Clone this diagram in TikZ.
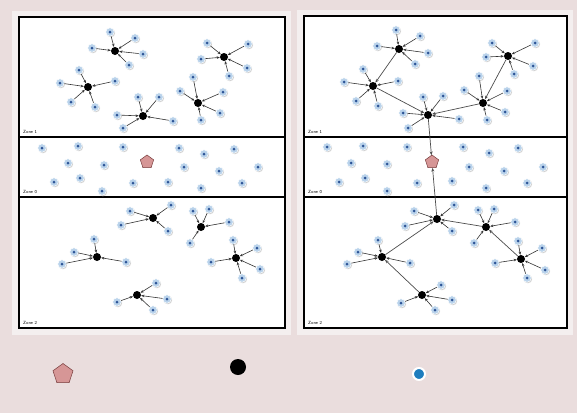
\documentclass[tikz,border=0pt]{standalone}
\usetikzlibrary{arrows.meta,shapes.geometric}
\definecolor{bgpink}{RGB}{234,221,221}
\definecolor{panelc}{RGB}{244,239,239}
\definecolor{sens}{RGB}{186,211,235}
\definecolor{sensc}{RGB}{45,85,150}
\definecolor{sinkf}{RGB}{214,150,150}
\definecolor{sinkd}{RGB}{120,60,60}
\definecolor{legblue}{RGB}{30,125,190}
\newcommand\mycluster[3]{%
  \node[hub] (#1) at #2 {};
  \foreach \p [count=\i] in {#3} {\node[sensor] (#1-\i) at \p {}; \draw[link] (#1-\i) -- (#1);}%
}
\newcommand\myfield[2]{%
  \foreach \p [count=\i] in {#2} {\node[sensor] (#1-\i) at \p {};}%
}
\begin{document}
\begin{tikzpicture}[x=1pt,y=-1pt,
  sensor/.style={circle,inner sep=0,minimum size=8.5pt,fill=sens,draw=white,line width=0.5pt,
    preaction={fill=black!18,transform canvas={shift={(0.9pt,-1pt)}}},
    path picture={\fill[sensc] (path picture bounding box.center) circle (1.5pt);}},
  hub/.style={circle,fill=black,inner sep=0,minimum size=8pt},
  link/.style={draw=black!80,line width=0.6pt,-{Stealth[length=3.2pt,width=2.6pt]}},
  backbone/.style={draw=black!70,line width=0.7pt,-{Stealth[length=3.6pt,width=3pt]}},
  sink/.style={regular polygon,regular polygon sides=5,fill=sinkf,draw=sinkd,line width=0.5pt,inner sep=0,minimum size=14pt},
  zonebox/.style={draw=black,line width=1.2pt,fill=white},
  zonelabel/.style={font=\sffamily\fontsize{4.5}{5}\selectfont,anchor=west,inner sep=0}]
\fill[bgpink] (0,0) rectangle (577,413);
\fill[panelc] (12,11) rectangle (291,335);
\fill[panelc] (297,10) rectangle (573,335);
% boxes
\draw[zonebox] (19,17) rectangle (285,328);
\draw[black,line width=1.2pt] (19,137) -- (285,137) (19,197) -- (285,197);
\draw[zonebox] (304,16) rectangle (567,328);
\draw[black,line width=1.2pt] (304,137) -- (567,137) (304,197) -- (567,197);
\node[zonelabel] (lz1) at (23,132) {Zone 1};
\node[zonelabel] (lz0) at (23,192) {Zone 0};
\node[zonelabel] (lz2) at (23,323) {Zone 2};
\node[zonelabel] (rz1) at (308,132) {Zone 1};
\node[zonelabel] (rz0) at (308,192) {Zone 0};
\node[zonelabel] (rz2) at (308,323) {Zone 2};
% left zone 1
\mycluster{A}{(115,51)}{(110,32),(135,38),(92,48),(143,54),(129,65)}
\mycluster{B}{(224,57)}{(207,43),(248,44),(201,59),(247,68),(229,76)}
\mycluster{C}{(88,87)}{(79,70),(60,83),(115,81),(71,102),(95,107)}
\mycluster{D}{(143,116)}{(138,97),(159,97),(117,115),(173,121),(123,128)}
\mycluster{E}{(198,103)}{(193,77),(180,91),(223,92),(201,120),(220,113)}
% left zone 0
\myfield{lf}{(42,148),(78,146),(123,147),(179,148),(204,154),(234,149),(68,163),(104,165),(184,167),(219,171),(258,167),(54,182),(80,178),(133,183),(168,182),(242,183),(201,188),(102,191)}
\node[sink] (lsink) at (147,162) {};
% left zone 2
\mycluster{F}{(153,218)}{(130,211),(171,205),(121,225),(168,231)}
\mycluster{G}{(201,227)}{(193,211),(209,209),(229,222),(190,243)}
\mycluster{H}{(97,257)}{(94,239),(74,252),(62,264),(126,262)}
\mycluster{I}{(236,258)}{(233,240),(257,248),(211,262),(260,269),(242,278)}
\mycluster{J}{(137,295)}{(156,283),(117,302),(167,299),(153,310)}
% right zone 1
\mycluster{K}{(399,49)}{(396,30),(420,36),(377,46),(428,53),(415,64)}
\mycluster{L}{(508,56)}{(492,43),(535,43),(486,57),(533,66),(514,74)}
\mycluster{M}{(373,86)}{(363,69),(344,82),(398,81),(356,101),(378,106)}
\mycluster{N}{(428,115)}{(423,97),(443,96),(403,113),(459,119),(408,128)}
\mycluster{O}{(483,103)}{(479,76),(464,90),(507,91),(487,120),(505,112)}
% right zone 0
\myfield{rf}{(327,147),(363,146),(407,147),(463,147),(489,153),(518,148),(351,163),(387,164),(469,167),(504,171),(543,167),(339,182),(365,178),(417,183),(452,181),(527,183),(486,188),(387,191)}
\node[sink] (rsink) at (432,162) {};
% right zone 2
\mycluster{P}{(437,219)}{(414,211),(454,205),(405,226),(452,231)}
\mycluster{Q}{(486,227)}{(478,210),(494,209),(515,222),(474,243)}
\mycluster{R}{(382,257)}{(378,240),(358,252),(347,264),(410,263)}
\mycluster{S}{(521,259)}{(518,241),(542,248),(495,263),(545,270),(527,278)}
\mycluster{T}{(422,295)}{(441,285),(401,303),(452,300),(435,310)}
% backbones
\draw[backbone] (K) -- (M);
\draw[backbone] (M) -- (N);
\draw[backbone] (L) -- (O);
\draw[backbone] (O) -- (N);
\draw[backbone] (N) -- (rsink);
\draw[backbone] (T) -- (R);
\draw[backbone] (R) -- (P);
\draw[backbone] (S) -- (Q);
\draw[backbone] (Q) -- (P);
\draw[backbone] (P) -- (rsink);
% legend
\node[sink,minimum size=21pt] (legsink) at (63,374) {};
\node[circle,fill=black,inner sep=0,minimum size=16pt] (leghub) at (238,367) {};
\node[circle,fill=legblue,draw=white,line width=2pt,inner sep=0,minimum size=12pt] (legsensor) at (419,374) {};
\end{tikzpicture}
\end{document}
